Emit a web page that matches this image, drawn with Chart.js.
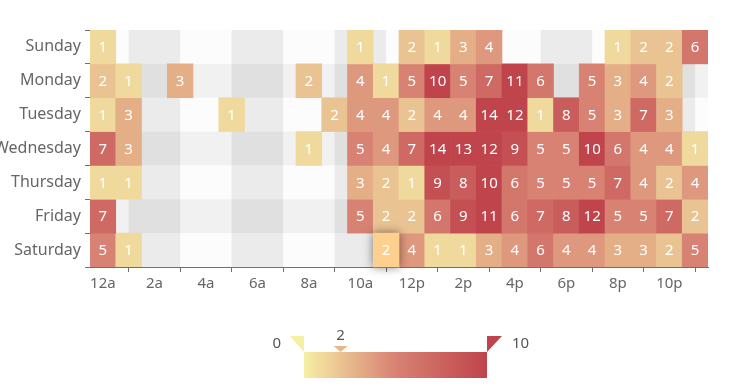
<!DOCTYPE html>
<html>
<head>
<meta charset="utf-8">
<script src="https://cdn.jsdelivr.net/npm/chart.js@4"></script>
<style>
html, body { margin: 0; padding: 0; background: #fff; }
#wrap { width: 749px; height: 387px; }
</style>
</head>
<body>
<div id="wrap"><canvas id="punchCard"></canvas></div>
<script>
const hours = ['12a', '1a', '2a', '3a', '4a', '5a', '6a', '7a', '8a', '9a', '10a', '11a',
    '12p', '1p', '2p', '3p', '4p', '5p', '6p', '7p', '8p', '9p', '10p', '11p'];
const days = ['Sunday', 'Monday', 'Tuesday', 'Wednesday', 'Thursday', 'Friday', 'Saturday'];

const sunday    = [1, 0, 0, 0, 0, 0, 0, 0, 0, 0, 1, 0, 2, 1, 3, 4, 0, 0, 0, 0, 1, 2, 2, 6];
const monday    = [2, 1, 0, 3, 0, 0, 0, 0, 2, 0, 4, 1, 5, 10, 5, 7, 11, 6, 0, 5, 3, 4, 2, 0];
const tuesday   = [1, 3, 0, 0, 0, 1, 0, 0, 0, 2, 4, 4, 2, 4, 4, 14, 12, 1, 8, 5, 3, 7, 3, 0];
const wednesday = [7, 3, 0, 0, 0, 0, 0, 0, 1, 0, 5, 4, 7, 14, 13, 12, 9, 5, 5, 10, 6, 4, 4, 1];
const thursday  = [1, 1, 0, 0, 0, 0, 0, 0, 0, 0, 3, 2, 1, 9, 8, 10, 6, 5, 5, 5, 7, 4, 2, 4];
const friday    = [7, 0, 0, 0, 0, 0, 0, 0, 0, 0, 5, 2, 2, 6, 9, 11, 6, 7, 8, 12, 5, 5, 7, 2];
const saturday  = [5, 1, 0, 0, 0, 0, 0, 0, 0, 0, 0, 2, 4, 1, 1, 3, 4, 6, 4, 4, 3, 3, 2, 5];
const counts = [sunday, monday, tuesday, wednesday, thursday, friday, saturday];

// visual map range and colours
const mapMin = 0, mapMax = 10;
const mapColors = ['#f6efa6', '#d88273', '#bf444c'];
// cell under the mouse when the screenshot was taken
const hovered = { day: 6, hour: 11 };
const hoverColor = '#fdd08f';

function hexToRgb(h) {
    return [1, 3, 5].map(i => parseInt(h.substr(i, 2), 16));
}
function colorFor(v) {
    let t = Math.min(Math.max((v - mapMin) / (mapMax - mapMin), 0), 1) * (mapColors.length - 1);
    const i = Math.min(Math.floor(t), mapColors.length - 2);
    const f = t - i;
    const a = hexToRgb(mapColors[i]), b = hexToRgb(mapColors[i + 1]);
    return 'rgb(' + a.map((c, k) => Math.round(c + (b[k] - c) * f)).join(',') + ')';
}

const FONT = '"Noto Sans", sans-serif';
Chart.defaults.font.family = FONT;
Chart.defaults.font.size = 15;
Chart.defaults.color = '#666';

// striped background like the echarts splitArea
const splitArea = {
    id: 'splitArea',
    beforeDatasetsDraw(chart) {
        const { ctx, chartArea: a, scales: { x, y } } = chart;
        ctx.save();
        ctx.fillStyle = '#fcfcfc';
        ctx.fillRect(a.left, a.top, a.width, a.height);
        ctx.fillStyle = 'rgba(0,0,0,0.066)';
        for (let i = 1; i + 2 <= hours.length; i += 4) {
            const x0 = x.getPixelForValue(i), x1 = x.getPixelForValue(i + 2);
            ctx.fillRect(x0, a.top, x1 - x0, a.height);
        }
        ctx.fillStyle = 'rgba(0,0,0,0.043)';
        for (let d = 1; d < days.length; d += 2) {
            const y0 = y.getPixelForValue(d), y1 = y.getPixelForValue(d + 1);
            ctx.fillRect(a.left, y0, a.width, y1 - y0);
        }
        ctx.restore();
    }
};

const cellLabels = {
    id: 'cellLabels',
    afterDatasetsDraw(chart) {
        const ctx = chart.ctx;
        const hi = chart.getDatasetMeta(hovered.day).data[hovered.hour];
        ctx.save();
        ctx.shadowBlur = 10;
        ctx.shadowColor = 'rgba(0,0,0,0.5)';
        hi.draw(ctx);
        ctx.restore();

        ctx.save();
        ctx.font = '15px ' + FONT;
        ctx.fillStyle = '#fff';
        ctx.textAlign = 'center';
        ctx.textBaseline = 'middle';
        counts.forEach((row, d) => {
            const meta = chart.getDatasetMeta(d);
            row.forEach((v, h) => {
                if (!v) return;
                const p = meta.data[h].getCenterPoint();
                ctx.fillText(String(v), p.x, p.y + 1);
            });
        });
        ctx.restore();
    }
};

const visualMap = {
    id: 'visualMap',
    afterDraw(chart) {
        const ctx = chart.ctx;
        const left = 304, top = 352, w = 183, h = 26;
        ctx.save();
        const g = ctx.createLinearGradient(left, 0, left + w, 0);
        mapColors.forEach((c, i) => g.addColorStop(i / (mapColors.length - 1), c));
        ctx.fillStyle = g;
        ctx.fillRect(left, top, w, h);

        ctx.fillStyle = colorFor(mapMin);
        ctx.beginPath();
        ctx.moveTo(left - 14, top - 16); ctx.lineTo(left, top - 16); ctx.lineTo(left, top);
        ctx.closePath(); ctx.fill();
        ctx.fillStyle = colorFor(mapMax);
        ctx.beginPath();
        ctx.moveTo(left + w, top - 16); ctx.lineTo(left + w + 15, top - 16); ctx.lineTo(left + w, top);
        ctx.closePath(); ctx.fill();

        ctx.font = '15px ' + FONT;
        ctx.fillStyle = '#555';
        ctx.textBaseline = 'middle';
        ctx.textAlign = 'right';
        ctx.fillText(String(mapMin), left - 23, top - 8);
        ctx.textAlign = 'left';
        ctx.fillText(String(mapMax), left + w + 25, top - 8);

        // hover indicator
        const v = counts[hovered.day][hovered.hour];
        const px = left + (v - mapMin) / (mapMax - mapMin) * w;
        ctx.fillStyle = '#e9b787';
        ctx.beginPath();
        ctx.moveTo(px - 7, top - 6); ctx.lineTo(px + 7, top - 6); ctx.lineTo(px, top);
        ctx.closePath(); ctx.fill();
        ctx.fillStyle = '#555';
        ctx.textAlign = 'center';
        ctx.fillText(String(v), px, top - 16);
        ctx.restore();
    }
};

const datasets = counts.map((row, d) => ({
    label: days[d],
    data: row.map(v => v > 0 ? [d, d + 1] : null),
    grouped: false,
    barPercentage: 1,
    categoryPercentage: 1,
    borderWidth: 0,
    backgroundColor: c => (d === hovered.day && c.dataIndex === hovered.hour)
        ? hoverColor : colorFor(row[c.dataIndex])
}));

new Chart(document.getElementById('punchCard'), {
    type: 'bar',
    data: { labels: hours, datasets: datasets },
    options: {
        responsive: true,
        maintainAspectRatio: false,
        animation: false,
        events: [],
        layout: { padding: { top: 30, right: 41, bottom: 90, left: 0 } },
        plugins: {
            legend: { display: false },
            tooltip: { enabled: false }
        },
        scales: {
            x: {
                type: 'category',
                offset: true,
                grid: {
                    offset: false,
                    drawOnChartArea: false,
                    tickLength: 5,
                    tickColor: c => c.index % 2 ? '#6e7079' : 'rgba(0,0,0,0)'
                },
                border: { color: '#6e7079' },
                ticks: {
                    autoSkip: false,
                    maxRotation: 0,
                    padding: 3,
                    callback: (v, i) => i % 2 ? '' : hours[i]
                },
                afterFit: s => { s.height = 30; }
            },
            y: {
                type: 'linear',
                reverse: true,
                min: 0,
                max: days.length,
                afterBuildTicks: s => { s.ticks = days.map((_, i) => ({ value: i + 0.5 })); },
                grid: {
                    offset: true,
                    drawOnChartArea: false,
                    tickLength: 5,
                    tickColor: '#6e7079'
                },
                border: { color: '#6e7079' },
                ticks: {
                    autoSkip: false,
                    padding: 4,
                    font: { size: 16 },
                    callback: v => days[Math.floor(v)]
                },
                afterFit: s => { s.width = 90; }
            }
        }
    },
    plugins: [splitArea, cellLabels, visualMap]
});
</script>
</body>
</html>
